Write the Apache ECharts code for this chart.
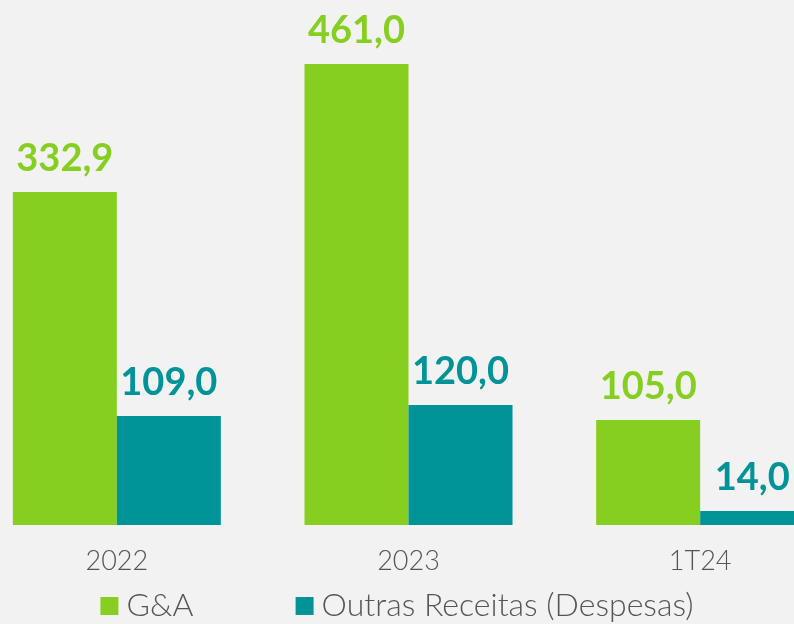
<!DOCTYPE html>
<html>
<head>
<meta charset="utf-8">
<script src="https://cdn.jsdelivr.net/npm/echarts@6/dist/echarts.min.js"></script>
<style>
  html, body { margin: 0; padding: 0; background: #f2f2f2; }
  #chart { width: 794px; height: 624px; }
</style>
</head>
<body>
<div id="chart"></div>
<script>
const categories = ['2022', '2023', '1T24'];
const gaValues = [332.9, 461.0, 105.0];
const outrasValues = [109.0, 120.0, 14.0];
const seriesNames = ['G&A', 'Outras Receitas (Despesas)'];

const GREEN = '#86cf20';
const TEAL = '#009499';

// rótulo com vírgula decimal
const fmt = (p) => p.value.toFixed(1).replace('.', ',');

const labelStyle = (color) => ({
  show: true,
  position: 'top',
  distance: 14,
  color: color,
  fontFamily: 'Lato',
  fontWeight: 'bold',
  fontSize: 38,
  formatter: fmt,
});

const chart = echarts.init(document.getElementById('chart'));
chart.setOption({
  backgroundColor: '#f2f2f2',
  animation: false,
  grid: { left: -29, right: -52, top: 25, bottom: 99, outerBoundsMode: 'none' },
  legend: {
    bottom: -3,
    left: 'center',
    itemWidth: 18,
    itemHeight: 18,
    itemGap: 102,
    icon: 'rect',
    textStyle: { fontFamily: 'Lato', fontWeight: 300, fontSize: 32, color: '#555', padding: [0, 0, 0, 3] },
    data: seriesNames,
  },
  xAxis: {
    type: 'category',
    data: categories,
    axisLine: { show: false },
    axisTick: { show: false },
    axisLabel: { margin: 23, fontFamily: 'Lato', fontWeight: 300, fontSize: 27, color: '#555' },
  },
  yAxis: {
    type: 'value',
    min: 0,
    max: 500,
    show: false,
    splitLine: { show: false },
  },
  series: [
    {
      name: seriesNames[0],
      type: 'bar',
      data: gaValues,
      barWidth: 104,
      barGap: '0%',
      itemStyle: { color: GREEN },
      label: labelStyle(GREEN),
    },
    {
      name: seriesNames[1],
      type: 'bar',
      data: outrasValues,
      barWidth: 104,
      itemStyle: { color: TEAL },
      label: labelStyle(TEAL),
    },
  ],
});
</script>
</body>
</html>
